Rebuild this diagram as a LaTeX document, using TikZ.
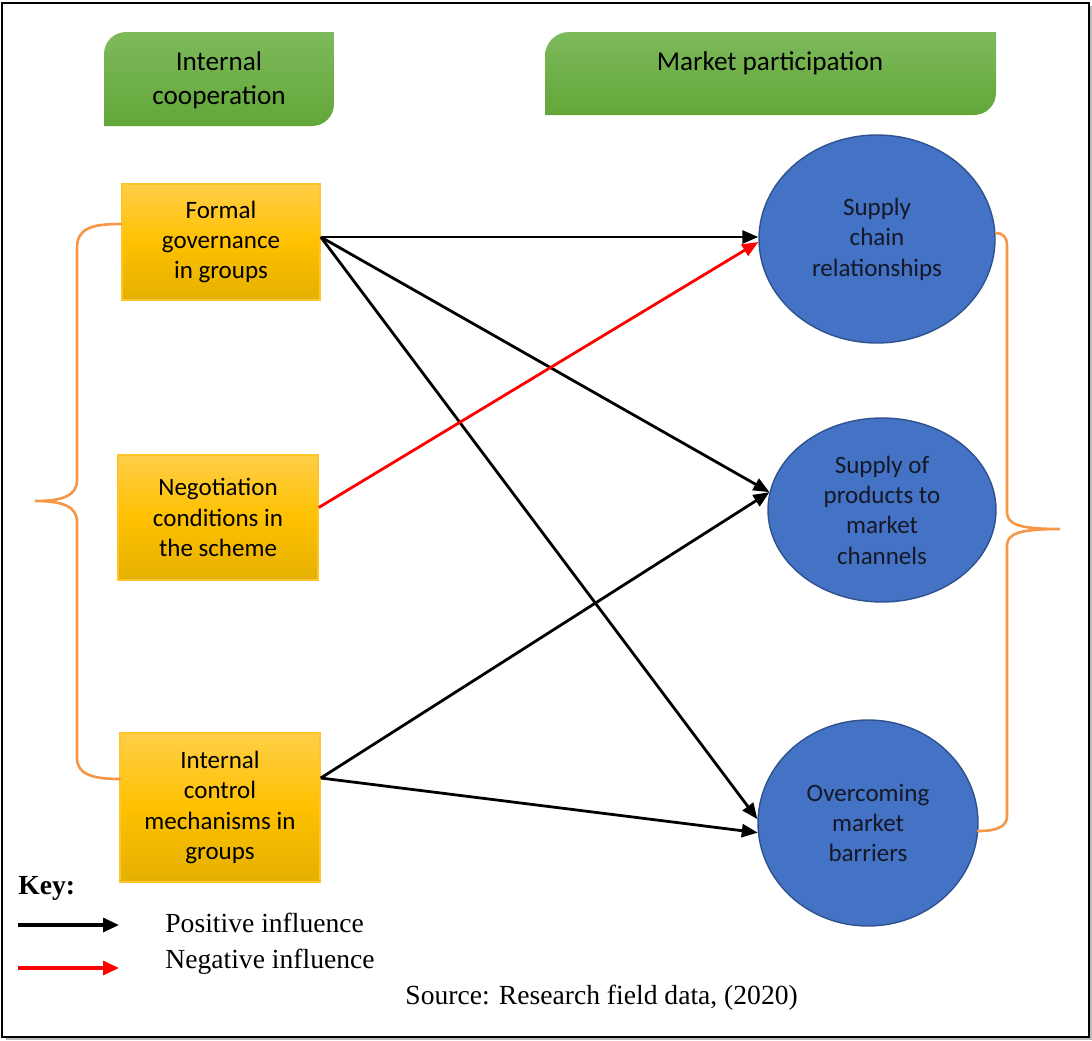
\documentclass[tikz,border=0pt]{standalone}
\usepackage{fontspec}
\setmainfont{Carlito}
\newfontfamily\serifkey{Liberation Serif}
\usetikzlibrary{shapes.geometric,arrows.meta}

\definecolor{boxtop}{RGB}{255,206,72}
\definecolor{boxmid}{RGB}{255,193,0}
\definecolor{boxbot}{RGB}{228,176,0}
\definecolor{boxline}{RGB}{255,196,40}
\definecolor{greentop}{RGB}{126,186,92}
\definecolor{greenbot}{RGB}{98,166,56}
\definecolor{ovalfill}{RGB}{68,114,196}
\definecolor{ovalline}{RGB}{47,82,143}
\definecolor{ovaltext}{RGB}{20,24,40}
\definecolor{bracecol}{RGB}{247,150,70}
\definecolor{negred}{RGB}{255,0,0}

\begin{document}
\begin{tikzpicture}[x=0.5pt,y=-0.5pt,
  factor/.style={rectangle, draw=boxline, line width=0.8pt,
    top color=boxtop, bottom color=boxbot, middle color=boxmid,
    align=center, inner sep=0pt, font=\fontsize{12.5}{15.2}\selectfont},
  outcome/.style={ellipse, draw=ovalline, line width=0.7pt, fill=ovalfill,
    align=center, inner sep=0pt, text=ovaltext,
    font=\fontsize{12.5}{15.2}\selectfont},
  bannertext/.style={align=center, inner sep=0pt,
    font=\fontsize{13.6}{17}\selectfont},
  banner/.style={top color=greentop, bottom color=greenbot},
  influence/.style={line width=1.4pt, -{Triangle[length=8pt,width=6.5pt]}},
  posinf/.style={influence, black},
  neginf/.style={influence, negred},
  keyarrow/.style={line width=1.6pt, -{Triangle[length=8pt,width=7pt]}},
  bracket/.style={draw=bracecol, line width=1.3pt, line cap=round},
  keytext/.style={anchor=west, inner sep=0pt,
    font=\serifkey\fontsize{13.8}{16}\selectfont}
]
\useasboundingbox (0,0) rectangle (1092,1040);

% page frame with a soft shadow
\fill[gray!55] (6,1037) rectangle (1092,1040);
\fill[gray!55] (1089,6) rectangle (1092,1040);
\draw[line width=0.7pt] (2,3) rectangle (1089,1037);

% headers
\shade[banner] (104,126) -- (104,54) arc[start angle=180,end angle=90,radius=11pt]
  -- (334,32) -- (334,104) arc[start angle=0,end angle=-90,radius=11pt] -- cycle;
\node[bannertext] (coop) at (219,80) {Internal\\cooperation};

\shade[banner] (545,115) -- (545,56) arc[start angle=180,end angle=90,radius=12pt]
  -- (996,32) -- (996,93) arc[start angle=0,end angle=-90,radius=11pt] -- cycle;
\node[bannertext] (mpart) at (770,63) {Market participation};

% internal cooperation factors
\node[factor, minimum width=99pt, minimum height=58pt] (fg) at (221,242)
  {Formal\\governance\\in groups};
\node[factor, minimum width=100pt, minimum height=62.5pt] (ng) at (218,517.5)
  {Negotiation\\conditions in\\the scheme};
\node[factor, minimum width=100pt, minimum height=74.5pt] (icm) at (220,807.5)
  {Internal\\control\\mechanisms in\\groups};

% market participation outcomes
\node[outcome, minimum width=118pt, minimum height=104pt] (sc) at (877,239)
  {Supply\\chain\\relationships};
\node[outcome, minimum width=114pt, minimum height=92pt] (sp) at (882,510)
  {Supply of\\products to\\market\\channels};
\node[outcome, minimum width=110pt, minimum height=103pt] (om) at (868,823)
  {Overcoming\\market\\barriers};

% influences
\draw[posinf] ([yshift=2.5pt]fg.east) -- ([yshift=1pt]sc.west);
\draw[posinf] ([yshift=2.5pt]fg.east) -- (sp.171);
\draw[posinf] ([yshift=2.5pt]fg.east) -- (om.178);
\draw[neginf] ([yshift=5pt]ng.east) -- ([yshift=-1.5pt]sc.west);
\draw[posinf] ([yshift=14.75pt]icm.east) -- (sp.171);
\draw[posinf] ([yshift=14.75pt]icm.east) -- (om.185);

% grouping braces
\draw[bracket] (121,224) .. controls (92,224) and (77,228) .. (77,248)
  -- (77,480) .. controls (77,496) and (62,501) .. (35,501)
  .. controls (62,501) and (77,506) .. (77,522)
  -- (77,758) .. controls (77,774) and (92,779) .. (120,779);
\draw[bracket] (996,233) .. controls (1003,233) and (1007,237) .. (1007,246)
  -- (1007,512) .. controls (1007,524) and (1018,529) .. (1060,529)
  .. controls (1018,529) and (1007,534) .. (1007,546)
  -- (1007,816) .. controls (1007,826) and (998,831) .. (978,831);

% key
\node[keytext, font=\serifkey\bfseries\fontsize{13.8}{16}\selectfont] (key) at (18,888) {Key:};
\coordinate (kp1) at (18,925);
\coordinate (kp2) at (119,925);
\coordinate (kn1) at (18,968);
\coordinate (kn2) at (119,968);
\draw[keyarrow, black] (kp1) -- (kp2);
\draw[keyarrow, negred] (kn1) -- (kn2);
\node[keytext] (kpos) at (165,923) {Positive influence};
\node[keytext] (kneg) at (165,962) {Negative influence};
\node[keytext] (src) at (405,998) {Source: Research field data, (2020)};
\end{tikzpicture}
\end{document}
